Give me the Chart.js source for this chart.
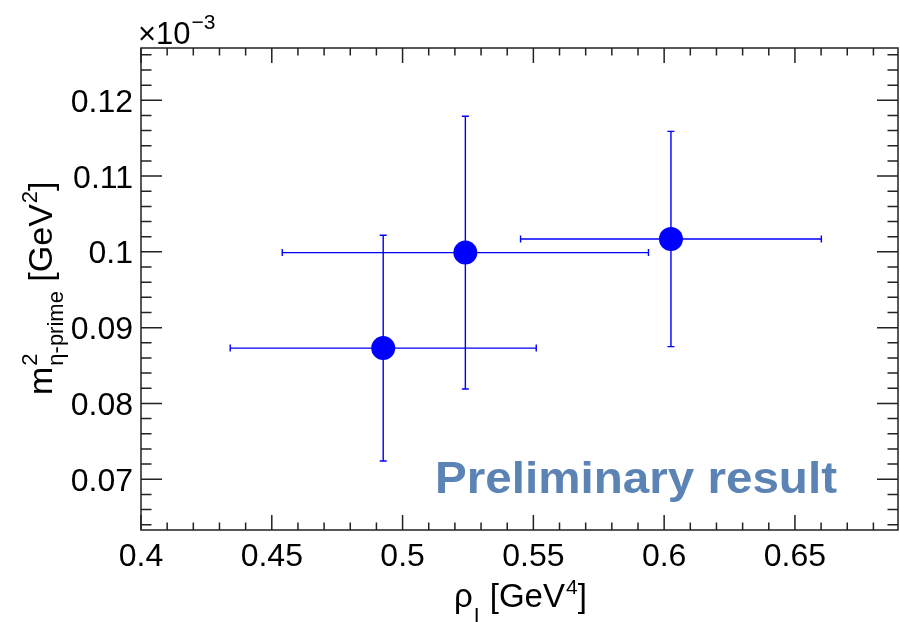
<!DOCTYPE html>
<html>
<head>
<meta charset="utf-8">
<script src="https://cdn.jsdelivr.net/npm/chart.js@4.4.0/dist/chart.umd.min.js"></script>
<style>
  body { margin: 0; background: #fff; }
  canvas { display: block; }
</style>
</head>
<body>
<canvas id="chart" width="900" height="622"></canvas>
<script>
// values in units of 1e-3 GeV^2 (y) and GeV^4 (x)
const xValues = [0.4926, 0.5240, 0.6026];
const yValues = [0.0873, 0.0999, 0.1017];
const xErrors = [0.0585, 0.0700, 0.0575];
const yErrors = [0.0149, 0.0180, 0.0142];

const xTicks = [0.4, 0.45, 0.5, 0.55, 0.6, 0.65];
const xTickLabels = ['0.4', '0.45', '0.5', '0.55', '0.6', '0.65'];
const yTicks = [0.07, 0.08, 0.09, 0.1, 0.11, 0.12];
const yTickLabels = ['0.07', '0.08', '0.09', '0.1', '0.11', '0.12'];

const FONT = '"Liberation Sans", Arial, sans-serif';
const BLUE = '#0000ff';

// error bars under the markers
const errorBars = {
    id: 'errorBars',
    beforeDatasetsDraw(chart) {
        const ctx = chart.ctx;
        const xs = chart.scales.x, ys = chart.scales.y;
        const cap = 3.5;
        ctx.save();
        ctx.strokeStyle = BLUE;
        ctx.lineWidth = 1.4;
        xValues.forEach((xv, i) => {
            const px = xs.getPixelForValue(xv);
            const py = ys.getPixelForValue(yValues[i]);
            const x0 = xs.getPixelForValue(xv - xErrors[i]);
            const x1 = xs.getPixelForValue(xv + xErrors[i]);
            const y0 = ys.getPixelForValue(yValues[i] - yErrors[i]);
            const y1 = ys.getPixelForValue(yValues[i] + yErrors[i]);
            ctx.beginPath();
            ctx.moveTo(x0, py); ctx.lineTo(x1, py);
            ctx.moveTo(x0, py - cap); ctx.lineTo(x0, py + cap);
            ctx.moveTo(x1, py - cap); ctx.lineTo(x1, py + cap);
            ctx.moveTo(px, y0); ctx.lineTo(px, y1);
            ctx.moveTo(px - cap, y0); ctx.lineTo(px + cap, y0);
            ctx.moveTo(px - cap, y1); ctx.lineTo(px + cap, y1);
            ctx.stroke();
        });
        ctx.restore();
    }
};

// ROOT style frame, ticks on all sides, labels and titles
const rootFrame = {
    id: 'rootFrame',
    afterDraw(chart) {
        const ctx = chart.ctx;
        const a = chart.chartArea;
        const xs = chart.scales.x, ys = chart.scales.y;
        ctx.save();
        ctx.strokeStyle = '#222';
        ctx.lineWidth = 1.5;
        ctx.strokeRect(a.left, a.top, a.right - a.left, a.bottom - a.top);

        ctx.beginPath();
        // x ticks
        for (let v = 0.40; v < xs.max + 1e-9; v += 0.01) {
            const px = xs.getPixelForValue(v);
            const major = Math.abs(Math.round(v * 100) % 5) === 0;
            const len = major ? 15 : 7.5;
            ctx.moveTo(px, a.bottom); ctx.lineTo(px, a.bottom - len);
            ctx.moveTo(px, a.top); ctx.lineTo(px, a.top + len);
        }
        // y ticks
        for (let v = 0.064; v < ys.max; v += 0.002) {
            const py = ys.getPixelForValue(v);
            const major = Math.round(v * 1000) % 10 === 0;
            const len = major ? 21 : 10.5;
            ctx.moveTo(a.left, py); ctx.lineTo(a.left + len, py);
            ctx.moveTo(a.right, py); ctx.lineTo(a.right - len, py);
        }
        ctx.stroke();

        // tick labels
        ctx.fillStyle = '#000';
        ctx.font = '32px ' + FONT;
        ctx.textBaseline = 'alphabetic';
        ctx.textAlign = 'center';
        xTicks.forEach((v, i) => {
            ctx.fillText(xTickLabels[i], xs.getPixelForValue(v), 566);
        });
        ctx.textAlign = 'right';
        yTicks.forEach((v, i) => {
            ctx.fillText(yTickLabels[i], 133, ys.getPixelForValue(v) + 11.5);
        });

        // exponent
        ctx.textAlign = 'left';
        ctx.font = '31px ' + FONT;
        ctx.fillText('\u00d710', 138, 44);
        let w = ctx.measureText('\u00d710').width;
        ctx.font = '21px ' + FONT;
        ctx.fillText('\u22123', 138 + w + 1, 29);

        // x title
        let x = 454;
        ctx.font = '33px ' + FONT;
        ctx.fillText('\u03c1', x, 607);
        x += ctx.measureText('\u03c1').width;
        ctx.font = '21px ' + FONT;
        ctx.fillText('I', x + 1, 622);
        x += ctx.measureText('I').width + 2;
        ctx.font = '33px ' + FONT;
        ctx.fillText(' [GeV', x, 607);
        x += ctx.measureText(' [GeV').width;
        ctx.font = '21px ' + FONT;
        ctx.fillText('4', x + 1, 594);
        x += ctx.measureText('4').width + 1;
        ctx.font = '33px ' + FONT;
        ctx.fillText(']', x, 607);

        // y title (rotated)
        ctx.save();
        ctx.translate(52, 395);
        ctx.rotate(-Math.PI / 2);
        let t = 0;
        ctx.font = '34px ' + FONT;
        ctx.fillText('m', t, 0);
        t += ctx.measureText('m').width + 1;
        ctx.font = '22px ' + FONT;
        ctx.fillText('2', t, -15);
        ctx.fillText('\u03b7-prime', t, 11);
        t += ctx.measureText('\u03b7-prime').width;
        ctx.font = '34px ' + FONT;
        ctx.fillText(' [GeV', t, 0);
        t += ctx.measureText(' [GeV').width;
        ctx.font = '22px ' + FONT;
        ctx.fillText('2', t + 1, -15);
        t += ctx.measureText('2').width + 1;
        ctx.font = '34px ' + FONT;
        ctx.fillText(']', t, 0);
        ctx.restore();

        // watermark text
        ctx.font = 'bold 44px ' + FONT;
        ctx.fillStyle = '#5b84b5';
        const label = 'Preliminary result';
        const sx = 402 / ctx.measureText(label).width;
        ctx.save();
        ctx.translate(435, 493);
        ctx.scale(sx, 1);
        ctx.fillText(label, 0, 0);
        ctx.restore();

        ctx.restore();
    }
};

const points = xValues.map((xv, i) => ({ x: xv, y: yValues[i] }));

new Chart(document.getElementById('chart').getContext('2d'), {
    type: 'scatter',
    data: {
        datasets: [{
            data: points,
            backgroundColor: BLUE,
            borderWidth: 0,
            pointRadius: 12,
            pointHoverRadius: 12
        }]
    },
    options: {
        responsive: false,
        animation: false,
        layout: { autoPadding: false, padding: { left: 141, right: 2, top: 48, bottom: 92 } },
        plugins: { legend: { display: false }, tooltip: { enabled: false } },
        scales: {
            x: { type: 'linear', min: 0.4, max: 0.6894, display: false },
            y: { type: 'linear', min: 0.0633, max: 0.1269, display: false }
        }
    },
    plugins: [errorBars, rootFrame]
});
</script>
</body>
</html>
